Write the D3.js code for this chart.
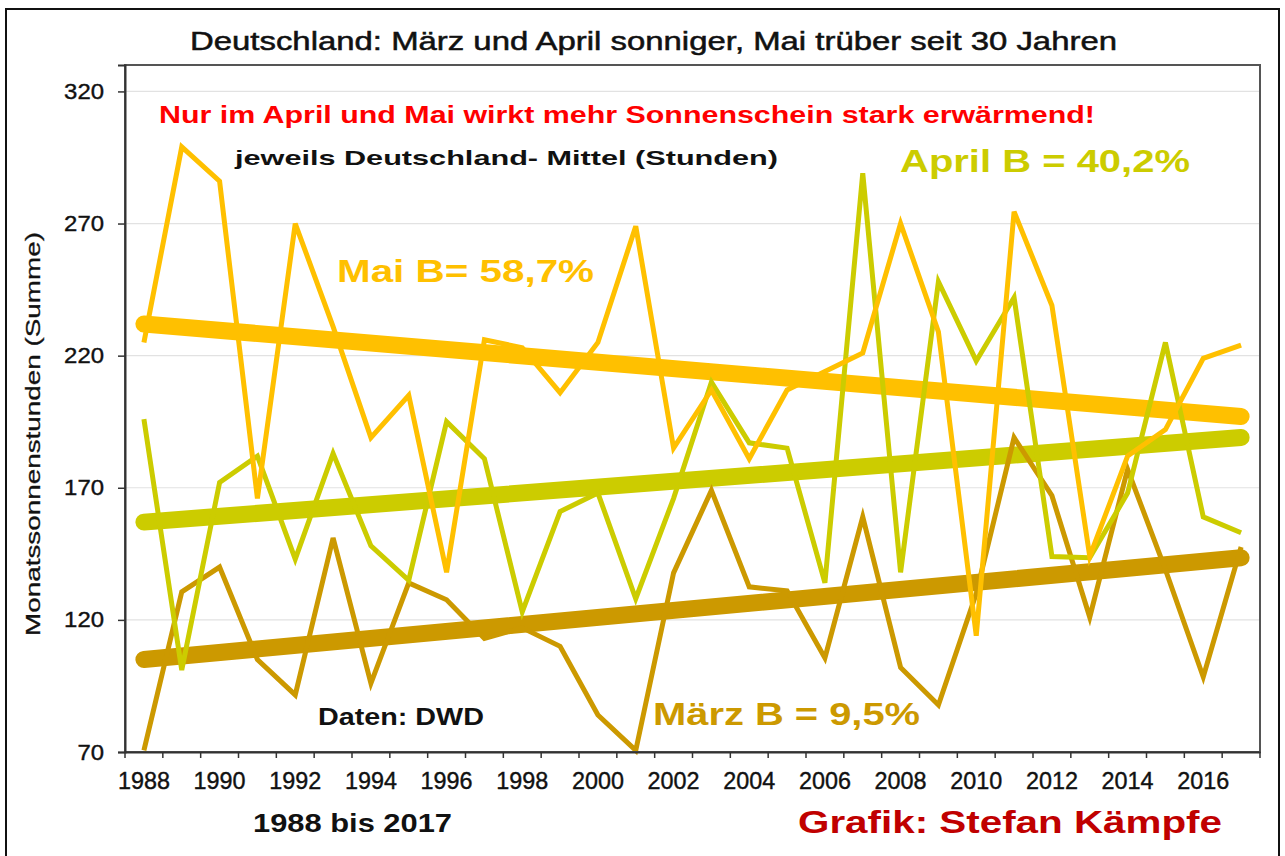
<!DOCTYPE html>
<html>
<head>
<meta charset="utf-8">
<script src="https://cdn.jsdelivr.net/npm/d3@7"></script>
<style>
  body { margin: 0; background: #fff; }
  svg { display: block; }
  text { font-family: "Liberation Sans", Arial, sans-serif; }
</style>
</head>
<body>
<svg id="chart"></svg>
<script>
// Sonnenstunden Deutschland-Mittel, 1988 bis 2017
const years = [1988, 1989, 1990, 1991, 1992, 1993, 1994, 1995, 1996, 1997,
               1998, 1999, 2000, 2001, 2002, 2003, 2004, 2005, 2006, 2007,
               2008, 2009, 2010, 2011, 2012, 2013, 2014, 2015, 2016, 2017];
const maerz = [70.6, 130.6, 140, 105, 91.6, 151, 96, 134, 127.6, 113,
               117, 110, 84, 70.6, 137.8, 169, 132.5, 131, 105.6, 159,
               102, 87.8, 130, 189, 167, 121, 177, 139, 98.4, 147.6];
const april = [196, 101, 172, 182, 143, 183, 148, 135, 195, 181,
               123, 161, 168, 128, 166, 210, 187, 185, 134, 289,
               138, 248, 218, 242, 144, 143.5, 168, 225, 159, 153];
const mai = [225, 299, 286, 166, 270, 231, 189, 205, 138, 226,
             223, 206, 225, 269, 185, 207, 181, 207, 214, 221,
             270, 229, 114, 274.5, 239, 144, 182, 192, 219, 224];
// lineare Trends (Anfang 1988, Ende 2017)
const trendMaerz = [105, 143.5];
const trendApril = [157, 189];
const trendMai = [232, 197];
const yTicks = [70, 120, 170, 220, 270, 320];
const labelYears = years.filter(d => d % 2 === 0);

const width = 1285, height = 856;
const plot = { left: 125, right: 1260, top: 65, bottom: 752 };

const svg = d3.select("#chart")
    .attr("width", width)
    .attr("height", height);

svg.append("rect")
    .attr("x", 6).attr("y", 9)
    .attr("width", 1273).attr("height", 870)
    .attr("fill", "#fff")
    .attr("stroke", "#111")
    .attr("stroke-width", 2);

const x = d3.scaleBand().domain(years).range([plot.left, plot.right]).padding(0);
const y = d3.scaleLinear().domain([70, 330]).range([plot.bottom, plot.top]);
const cx = d => x(d) + x.bandwidth() / 2;

// Gitterlinien
svg.append("g")
    .selectAll("line")
    .data(yTicks.slice(1))
    .enter()
    .append("line")
    .attr("x1", plot.left).attr("x2", plot.right)
    .attr("y1", d => y(d)).attr("y2", d => y(d))
    .attr("stroke", "#e2e2e2")
    .attr("stroke-width", 1.2);

// Trendlinien
const trends = [
    { vals: trendMaerz, color: "#cc9900" },
    { vals: trendApril, color: "#cccc00" },
    { vals: trendMai, color: "#ffc000" }
];
const ends = [years[0], years[years.length - 1]];
const line = d3.line().x(d => cx(d[0])).y(d => y(d[1]));

svg.append("g")
    .selectAll("path")
    .data(trends)
    .enter()
    .append("path")
    .attr("d", t => line(ends.map((yr, i) => [yr, t.vals[i]])))
    .attr("fill", "none")
    .attr("stroke", t => t.color)
    .attr("stroke-width", 17)
    .attr("stroke-linecap", "round");

// Monatswerte
const series = [
    { vals: maerz, color: "#cc9900" },
    { vals: april, color: "#cccc00" },
    { vals: mai, color: "#ffc000" }
];

svg.append("g")
    .selectAll("path")
    .data(series)
    .enter()
    .append("path")
    .attr("d", s => line(years.map((yr, i) => [yr, s.vals[i]])))
    .attr("fill", "none")
    .attr("stroke", s => s.color)
    .attr("stroke-width", 5);

// Rahmen
svg.append("rect")
    .attr("x", plot.left).attr("y", plot.top)
    .attr("width", plot.right - plot.left)
    .attr("height", plot.bottom - plot.top)
    .attr("fill", "none")
    .attr("stroke", "#555")
    .attr("stroke-width", 2);

// y-Achse
const yAxis = svg.append("g")
    .attr("transform", `translate(${plot.left},0)`)
    .call(d3.axisLeft(y).tickValues(yTicks).tickSize(7).tickPadding(14));
yAxis.attr("font-family", null);
yAxis.select(".domain").attr("stroke", "#333").attr("stroke-width", 2);
yAxis.selectAll(".tick line").attr("stroke", "#333").attr("stroke-width", 1.5);
yAxis.selectAll(".tick text")
    .attr("font-size", 22)
    .attr("fill", "#111")
    .attr("stroke", "#111")
    .attr("stroke-width", 0.4)
    .attr("textLength", d => String(d).length * 13.3)
    .attr("lengthAdjust", "spacingAndGlyphs");

// x-Achse
const xAxis = svg.append("g")
    .attr("transform", `translate(0,${plot.bottom})`)
    .call(d3.axisBottom(x).tickValues(labelYears).tickSize(0).tickPadding(20));
xAxis.attr("font-family", null);
xAxis.select(".domain").attr("stroke", "#333").attr("stroke-width", 2);
xAxis.selectAll(".tick text")
    .attr("font-size", 24)
    .attr("fill", "#111")
    .attr("stroke", "#111")
    .attr("stroke-width", 0.4)
    .attr("textLength", 52)
    .attr("lengthAdjust", "spacingAndGlyphs");
svg.append("g")
    .selectAll("line")
    .data(years.concat(["end"]))
    .enter()
    .append("line")
    .attr("x1", d => d === "end" ? plot.right : x(d))
    .attr("x2", d => d === "end" ? plot.right : x(d))
    .attr("y1", plot.bottom).attr("y2", plot.bottom + 6)
    .attr("stroke", "#333")
    .attr("stroke-width", 1.5);

// Achsentitel
svg.append("text")
    .attr("transform", "translate(40,434) rotate(-90)")
    .attr("text-anchor", "middle")
    .attr("font-size", 21)
    .attr("fill", "#111")
    .attr("stroke", "#111")
    .attr("stroke-width", 0.3)
    .attr("textLength", 404)
    .attr("lengthAdjust", "spacingAndGlyphs")
    .text("Monatssonnenstunden (Summe)");

// Texte
function label(x0, x1, yb, str, size, weight, fill, sw) {
    svg.append("text")
        .attr("x", x0).attr("y", yb)
        .attr("font-size", size)
        .attr("font-weight", weight)
        .attr("fill", fill)
        .attr("stroke", sw ? fill : null)
        .attr("stroke-width", sw || null)
        .attr("textLength", x1 - x0)
        .attr("lengthAdjust", "spacingAndGlyphs")
        .text(str);
}

label(190, 1117, 50, "Deutschland: März und April sonniger, Mai trüber seit 30 Jahren", 25, "normal", "#111", 0.5);
label(159, 1095, 123, "Nur im April und Mai wirkt mehr Sonnenschein stark erwärmend!", 23, "bold", "#ff0000");
label(235, 778, 165, "jeweils Deutschland- Mittel (Stunden)", 21, "bold", "#111");
label(337, 594, 282, "Mai B= 58,7%", 31, "bold", "#ffc000");
label(900, 1190, 172, "April B = 40,2%", 32, "bold", "#cccc00");
label(653, 920, 725, "März B = 9,5%", 32, "bold", "#cc9900");
label(318, 484, 725, "Daten: DWD", 23, "bold", "#111");
label(253, 452, 832, "1988 bis 2017", 25, "bold", "#111");
label(798, 1222, 833, "Grafik: Stefan Kämpfe", 32, "bold", "#c00000");
</script>
</body>
</html>
